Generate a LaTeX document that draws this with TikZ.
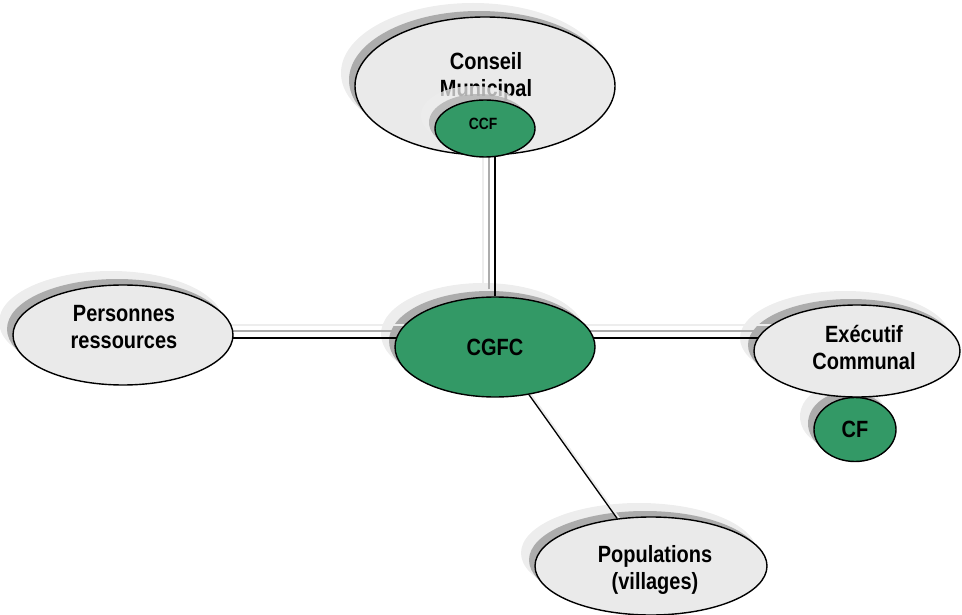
\documentclass[tikz,border=0pt]{standalone}
\usepackage{fontspec}
\setmainfont{Liberation Sans}
\usepackage{graphicx}
\usetikzlibrary{shapes.geometric}

\pgfdeclarelayer{shade}
\pgfdeclarelayer{links}
\pgfsetlayers{shade,links,main}

\definecolor{bubgreen}{RGB}{51,153,102}
\definecolor{bubgray}{RGB}{234,234,234}
\definecolor{shadedark}{RGB}{172,172,172}
\definecolor{shadelight}{RGB}{237,237,237}

% text of a bubble: #1 = twice the horizontal offset, #2 = height of the
% last baseline above the centre, #3 = lines
\newcommand\bubtext[3]{%
  \raisebox{#2}[0pt][0pt]{\makebox[0pt]{\hspace*{#1}\makebox[0pt]{%
    \scalebox{0.85}[1]{\begin{tabular}[b]{@{}c@{}}#3\end{tabular}}}}}}

% drop shadow of an ellipse: centre x, centre y, x radius, y radius
\newcommand\dropshade[4]{%
  \fill[shadelight] (#1-12,#2-13) ellipse [x radius=#3+2, y radius=#4+1];
  \fill[shadedark]  (#1-6,#2-6)  ellipse [x radius=#3, y radius=#4];}

\tikzset{
  bubble/.style={ellipse, draw=black, line width=1.4pt, inner sep=0pt,
    font=\fontsize{23.5}{27}\selectfont\bfseries},
  palebub/.style={bubble, fill=bubgray},
  greenbub/.style={bubble, fill=bubgreen},
  link/.style={draw=black, line width=1.5pt},
  linkdark/.style={draw=shadedark, line width=1.2pt},
  linklight/.style={draw=shadelight, line width=1.2pt},
}

\begin{document}
\begin{tikzpicture}[x=1pt, y=-1pt]
  \useasboundingbox (0,0) rectangle (962,615);

  % bubbles
  \node[palebub, minimum width=260pt, minimum height=138pt] (conseil) at (485,86)
    {\bubtext{2pt}{-11pt}{Conseil\\Municipal}};
  \begin{scope}[opacity=0.75]
    \dropshade{485}{128.5}{50}{28.5}
  \end{scope}
  \node[greenbub, minimum width=100pt, minimum height=57pt,
        font=\fontsize{16.3}{19}\selectfont\bfseries] (ccf) at (485,128.5)
    {\bubtext{-4pt}{-1.5pt}{CCF}};
  \node[greenbub, minimum width=200pt, minimum height=100pt] (cgfc) at (495,347)
    {\bubtext{0pt}{-8pt}{CGFC}};
  \node[palebub, minimum width=206pt, minimum height=92pt] (exe) at (857,351)
    {\bubtext{14pt}{-18pt}{Exécutif\\Communal}};
  \node[greenbub, minimum width=82pt, minimum height=64pt] (cf) at (855,429.5)
    {\bubtext{0pt}{-7.5pt}{CF}};
  \node[palebub, minimum width=220pt, minimum height=100pt] (pers) at (123,335)
    {\bubtext{2pt}{-13pt}{Personnes\\ressources}};
  \node[palebub, minimum width=232pt, minimum height=98pt] (pop) at (651,566)
    {\bubtext{8pt}{-23pt}{Populations\\(villages)}};

  % drop shadows behind the bubbles
  \begin{pgfonlayer}{shade}
    \dropshade{485}{86}{130}{69}
    \dropshade{495}{347}{100}{50}
    \dropshade{857}{351}{103}{46}
    \dropshade{855}{429.5}{41}{32}
    \dropshade{123}{335}{110}{50}
    \dropshade{651}{566}{116}{49}
  \end{pgfonlayer}

  % connectors
  \coordinate (hl) at ([yshift=-3pt]pers.center);
  \begin{pgfonlayer}{shade}
    \begin{scope}[transform canvas={shift={(-12pt,13pt)}}]
      \path[linklight] (cgfc) -- (cgfc |- ccf);
      \path[linklight] (hl) -- (hl -| cgfc);
      \path[linklight] (hl -| cgfc) -- (hl -| exe);
    \end{scope}
    \begin{scope}[transform canvas={shift={(-6pt,7pt)}}]
      \path[linkdark] (cgfc) -- (cgfc |- ccf);
      \path[linkdark] (hl) -- (hl -| cgfc);
      \path[linkdark] (hl -| cgfc) -- (hl -| exe);
    \end{scope}
    \begin{scope}[transform canvas={shift={(2pt,0pt)}}]
      \path[draw=shadelight, line width=2pt] (cgfc) -- (pop);
    \end{scope}
  \end{pgfonlayer}
  \begin{pgfonlayer}{links}
    \path[link] (cgfc) -- (cgfc |- ccf);
    \path[link] (hl) -- (hl -| cgfc);
    \path[link] (hl -| cgfc) -- (hl -| exe);
    \path[link, line width=1.3pt] (cgfc) -- (pop);
  \end{pgfonlayer}
\end{tikzpicture}
\end{document}
